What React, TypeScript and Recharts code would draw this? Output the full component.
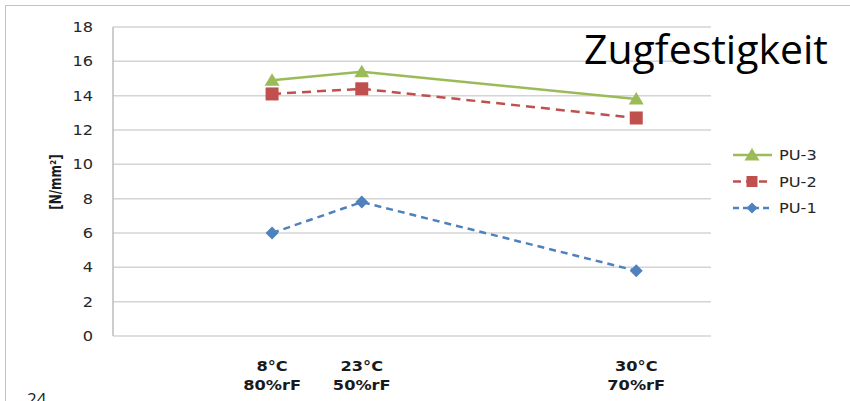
import React from 'react';
import { LineChart, Line, XAxis, YAxis, CartesianGrid, Legend } from 'recharts';

// Test climates: temperature / relative humidity
const climateTemp = ['8°C', '23°C', '30°C'];
const climateHumidity = ['80%rF', '50%rF', '70%rF'];
// Horizontal placement of each climate on the numeric x scale (0–100)
const climatePos = [26.6, 41.6, 87.5];

// Tensile strength in N/mm²
const pu1 = [6.0, 7.8, 3.8];
const pu2 = [14.1, 14.4, 12.7];
const pu3 = [14.9, 15.4, 13.8];

const yTicks = [0, 2, 4, 6, 8, 10, 12, 14, 16, 18];

const data = climatePos.map((x, i) => ({
  x,
  temp: climateTemp[i],
  hum: climateHumidity[i],
  pu1: pu1[i],
  pu2: pu2[i],
  pu3: pu3[i],
}));

const GREEN = '#9BBB59';
const RED = '#C0504D';
const BLUE = '#4F81BD';
const AXIS_FONT = '"DejaVu Sans", Verdana, sans-serif';
// the axis lettering is set slightly wide
const WIDE = 'scale(1.2,1)';

const TriangleDot = (props: any) => {
  const { cx, cy, fill } = props;
  if (cx == null || cy == null) return null;
  return <path d={`M${cx},${cy - 7} L${cx + 7.5},${cy + 5.5} L${cx - 7.5},${cy + 5.5} Z`} fill={fill} />;
};

const SquareDot = (props: any) => {
  const { cx, cy, fill } = props;
  if (cx == null || cy == null) return null;
  return <rect x={cx - 6.5} y={cy - 6.5} width={13} height={13} fill={fill} />;
};

const DiamondDot = (props: any) => {
  const { cx, cy, fill } = props;
  if (cx == null || cy == null) return null;
  return <path d={`M${cx},${cy - 6.5} L${cx + 6.5},${cy} L${cx},${cy + 6.5} L${cx - 6.5},${cy} Z`} fill={fill} />;
};

const ValueTick = (props: any) => {
  const { x, y, payload } = props;
  return (
    <g transform={`translate(${x},${y})`}>
      <text transform={WIDE} textAnchor="end" dy="0.36em" fontFamily={AXIS_FONT} fontSize={13.5} fill="#262626">
        {payload.value}
      </text>
    </g>
  );
};

const ClimateTick = (props: any) => {
  const { x, payload } = props;
  const i = climatePos.indexOf(payload.value);
  if (i < 0) return null;
  return (
    <g transform={`translate(${x},0)`}>
      <text transform={WIDE} textAnchor="middle" fontFamily={AXIS_FONT} fontSize={13.5} fontWeight="bold" fill="#1a1a1a">
        <tspan x={0} y={371}>{climateTemp[i]}</tspan>
        <tspan x={0} y={390}>{climateHumidity[i]}</tspan>
      </text>
    </g>
  );
};

const legendRows = [
  { name: 'PU-3', color: GREEN, dash: undefined as string | undefined, marker: 'tri' },
  { name: 'PU-2', color: RED, dash: '8 5', marker: 'sq' },
  { name: 'PU-1', color: BLUE, dash: '6 4', marker: 'dia' },
];

const LegendContent = () => (
  <svg width={118} height={80}>
    {legendRows.map((r, i) => {
      const cy = 12 + i * 26.5;
      const cx = 20;
      return (
        <g key={r.name}>
          <line x1={1} x2={40} y1={cy} y2={cy} stroke={r.color} strokeWidth={2.5} strokeDasharray={r.dash} />
          {r.marker === 'tri' && <TriangleDot cx={cx} cy={cy} fill={r.color} />}
          {r.marker === 'sq' && <rect x={cx - 5.5} y={cy - 5.5} width={11} height={11} fill={r.color} />}
          {r.marker === 'dia' && <path d={`M${cx},${cy - 5.5} L${cx + 5.5},${cy} L${cx},${cy + 5.5} L${cx - 5.5},${cy} Z`} fill={r.color} />}
          <g transform={`translate(47,${cy + 5})`}>
            <text transform={WIDE} fontFamily={AXIS_FONT} fontSize={13.5} fill="#262626">{r.name}</text>
          </g>
        </g>
      );
    })}
  </svg>
);

export default function App() {
  return (
    <div style={{ position: 'absolute', left: 0, top: 0, width: 850, height: 401, background: '#fff', overflow: 'hidden' }}>
      <LineChart
        width={850}
        height={401}
        data={data}
        margin={{ top: 27, right: 139, bottom: 25, left: 53 }}
      >
        <CartesianGrid vertical={false} stroke="#d4d4d4" strokeWidth={1.5} />
        <XAxis
          dataKey="x"
          type="number"
          domain={[0, 100]}
          ticks={climatePos}
          tick={<ClimateTick />}
          axisLine={false}
          tickLine={false}
          height={40}
          interval={0}
        />
        <YAxis
          domain={[0, 18]}
          ticks={yTicks}
          width={60}
          axisLine={{ stroke: '#bdbdbd', strokeWidth: 1.5 }}
          tickLine={false}
          tickSize={0}
          tickMargin={20}
          tick={<ValueTick />}
          interval={0}
        />
        <Legend
          layout="horizontal"
          align="center"
          verticalAlign="middle"
          wrapperStyle={{ left: 732, top: 143, width: 118, height: 80 }}
          content={<LegendContent />}
        />
        <Line
          dataKey="pu1"
          name="PU-1"
          stroke={BLUE}
          strokeWidth={2.5}
          strokeDasharray="7 5"
          dot={<DiamondDot />}
          fill={BLUE}
          isAnimationActive={false}
        />
        <Line
          dataKey="pu2"
          name="PU-2"
          stroke={RED}
          strokeWidth={2.5}
          strokeDasharray="9 6"
          dot={<SquareDot />}
          fill={RED}
          isAnimationActive={false}
        />
        <Line
          dataKey="pu3"
          name="PU-3"
          stroke={GREEN}
          strokeWidth={2.5}
          dot={<TriangleDot />}
          fill={GREEN}
          isAnimationActive={false}
        />
      </LineChart>

      {/* slide frame */}
      <div style={{ position: 'absolute', left: 5, top: 5, width: 860, height: 420, borderLeft: '1.5px solid #F7C23E', borderTop: '1.5px solid #F7C23E' }} />

      {/* y axis title */}
      <div
        style={{
          position: 'absolute',
          left: 56,
          top: 182,
          transform: 'translate(-50%, -50%) rotate(-90deg) scale(0.92, 1.2)',
          fontFamily: AXIS_FONT,
          fontSize: 13,
          fontWeight: 'bold',
          color: '#1a1a1a',
          whiteSpace: 'nowrap',
        }}
      >
        [N/mm²]
      </div>

      {/* slide title */}
      <div
        style={{
          position: 'absolute',
          left: 584,
          top: 23,
          fontFamily: '"Open Sans", sans-serif',
          fontSize: 41,
          lineHeight: '50px',
          color: '#000',
          whiteSpace: 'nowrap',
        }}
      >
        Zugfestigkeit
      </div>

      {/* page number */}
      <div
        style={{
          position: 'absolute',
          left: 27,
          top: 389,
          fontFamily: '"Open Sans", sans-serif',
          fontSize: 17,
          lineHeight: '20px',
          color: '#222',
        }}
      >
        24
      </div>
    </div>
  );
}
